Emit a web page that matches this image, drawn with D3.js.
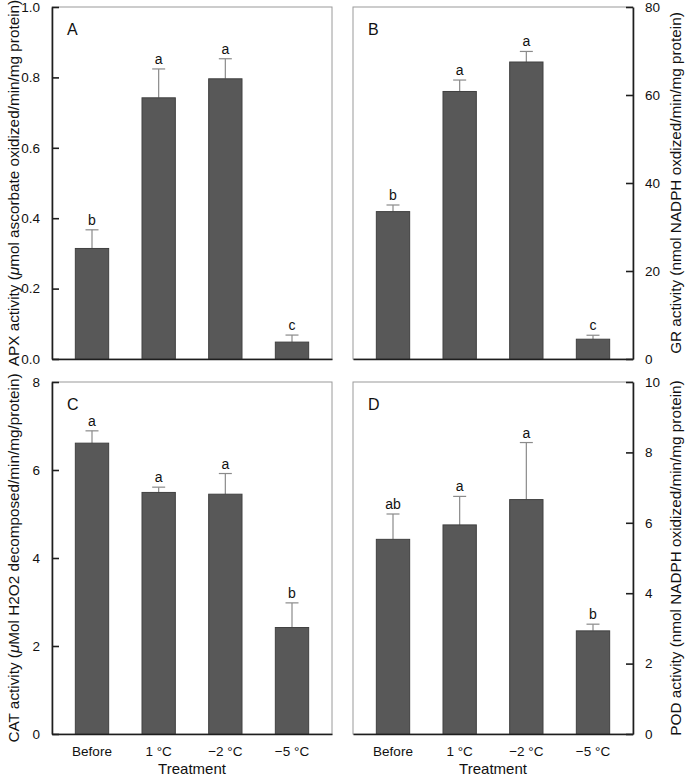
<!DOCTYPE html>
<html><head><meta charset="utf-8">
<script src="https://cdn.jsdelivr.net/npm/d3@7"></script>
<style>body{margin:0;background:#fff}svg{display:block}text{font-family:"Liberation Sans",Arial,Helvetica,sans-serif;fill:#111}</style>
</head><body><svg id="c" width="685" height="777"></svg>
<script>
const categories = ["Before", "1 °C", "\u22122 °C", "\u22125 °C"];
const apxMean = [0.314, 0.742, 0.796, 0.048];
const apxErr  = [0.367, 0.824, 0.853, 0.068];
const apxSig  = ["b", "a", "a", "c"];
const grMean = [33.5, 60.8, 67.5, 4.5];
const grErr  = [35.0, 63.4, 69.9, 5.4];
const grSig  = ["b", "a", "a", "c"];
const catMean = [6.61, 5.49, 5.45, 2.42];
const catErr  = [6.89, 5.61, 5.92, 2.98];
const catSig  = ["a", "a", "a", "b"];
const podMean = [5.53, 5.94, 6.66, 2.93];
const podErr  = [6.25, 6.75, 8.28, 3.12];
const podSig  = ["ab", "a", "a", "b"];
const apxTicks = [0, 0.2, 0.4, 0.6, 0.8, 1.0];
const grTicks = [0, 20, 40, 60, 80];
const catTicks = [0, 2, 4, 6, 8];
const podTicks = [0, 2, 4, 6, 8, 10];

const svg = d3.select("#c");
const panels = [
  {letter:"A", mean:apxMean, err:apxErr, sig:apxSig, ticks:apxTicks, max:1.0, fmt:d3.format(".1f"), x0:52, x1:332, y0:7, y1:359, side:"left", xlab:false,
   title:[["APX activity (",null],["\u03bc","italic"],["mol ascorbate oxidized/min/mg protein)",null]]},
  {letter:"B", mean:grMean, err:grErr, sig:grSig, ticks:grTicks, max:80, fmt:d3.format("d"), x0:353, x1:633, y0:7, y1:359, side:"right", xlab:false,
   title:[["GR activity (nmol NADPH oxdized/min/mg protein)",null]]},
  {letter:"C", mean:catMean, err:catErr, sig:catSig, ticks:catTicks, max:8, fmt:d3.format("d"), x0:52, x1:332, y0:382, y1:734, side:"left", xlab:true,
   title:[["CAT activity (",null],["\u03bc","italic"],["Mol H2O2 decomposed/min/mg/protein)",null]]},
  {letter:"D", mean:podMean, err:podErr, sig:podSig, ticks:podTicks, max:10, fmt:d3.format("d"), x0:353, x1:633, y0:382, y1:734, side:"right", xlab:true,
   title:[["POD activity (nmol NADPH oxidized/min/mg protein)",null]]}
];

panels.forEach(p => {
  const x = d3.scaleBand().domain(categories).range([p.x0, p.x1]).paddingInner(0.5).paddingOuter(0.35);
  const y = d3.scaleLinear().domain([0, p.max]).range([p.y1, p.y0]);
  const g = svg.append("g");
  g.append("rect").attr("x", p.x0).attr("y", p.y0).attr("width", p.x1 - p.x0).attr("height", p.y1 - p.y0)
    .attr("fill", "none").attr("stroke", "#9a9a9a").attr("stroke-width", 1);
  d3.range(categories.length).forEach(i => {
    const cx = x(categories[i]) + x.bandwidth() / 2;
    g.append("line").attr("x1", cx).attr("x2", cx).attr("y1", y(p.mean[i])).attr("y2", y(p.err[i]))
      .attr("stroke", "#8a8a8a").attr("stroke-width", 1.2);
    g.append("line").attr("x1", cx - 6.5).attr("x2", cx + 6.5).attr("y1", y(p.err[i])).attr("y2", y(p.err[i]))
      .attr("stroke", "#8a8a8a").attr("stroke-width", 1.2);
  });
  g.selectAll("rect.bar").data(p.mean).join("rect").attr("class", "bar")
    .attr("x", (d, i) => x(categories[i])).attr("width", x.bandwidth())
    .attr("y", d => y(d)).attr("height", d => y(0) - y(d))
    .attr("fill", "#585858").attr("stroke", "#404040").attr("stroke-width", 1);
  g.selectAll("text.sig").data(p.sig).join("text").attr("class", "sig")
    .attr("x", (d, i) => x(categories[i]) + x.bandwidth() / 2)
    .attr("y", (d, i) => y(p.err[i]) - 5)
    .attr("text-anchor", "middle").attr("font-size", 14).text(d => d);
  const axis = (p.side === "left" ? d3.axisLeft(y) : d3.axisRight(y))
    .tickValues(p.ticks).tickFormat(p.fmt).tickSizeInner(-7).tickSizeOuter(0).tickPadding(12);
  const ax = g.append("g").attr("transform", `translate(${p.side === "left" ? p.x0 : p.x1},0)`).call(axis);
  ax.select(".domain").attr("stroke", "#1e1e1e").attr("stroke-width", 1.6);
  ax.selectAll(".tick line").attr("stroke", "#1e1e1e").attr("stroke-width", 1.6);
  ax.selectAll(".tick text").attr("font-size", 13.5).attr("font-family", '"Liberation Sans",Arial,sans-serif').attr("fill", "#111");
  const xa = g.append("g").attr("transform", `translate(0,${p.y1})`)
    .call(d3.axisBottom(x).tickSize(0).tickPadding(12).tickFormat(p.xlab ? (d => d) : (() => "")));
  xa.select(".domain").attr("stroke", "#1e1e1e").attr("stroke-width", 1.6);
  xa.selectAll(".tick text").attr("font-size", 13.5).attr("font-family", '"Liberation Sans",Arial,sans-serif').attr("fill", "#111");
  if (p.xlab) {
    g.append("text").attr("x", (p.x0 + p.x1) / 2).attr("y", 774).attr("text-anchor", "middle")
      .attr("font-size", 15).text("Treatment");
  }
  g.append("text").attr("x", p.x0 + 15).attr("y", p.y0 + 28).attr("font-size", 16).text(p.letter);
  const tx = p.side === "left" ? 13 : 675;
  const ty = (p.y0 + p.y1) / 2;
  const t = g.append("text").attr("transform", `translate(${tx},${ty}) rotate(-90)`)
    .attr("text-anchor", "middle").attr("dominant-baseline", "central").attr("font-size", 15.3);
  p.title.forEach(([s, st]) => { const ts = t.append("tspan").text(s); if (st) ts.attr("font-style", st); });
});
</script></body></html>
